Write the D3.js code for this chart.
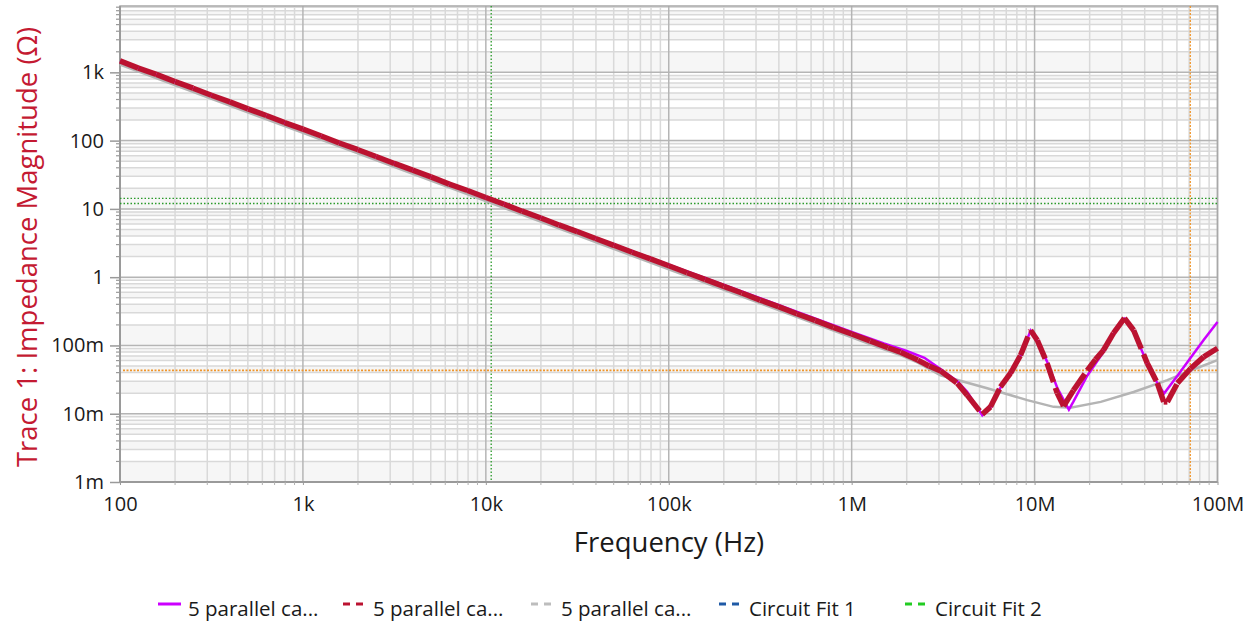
<!DOCTYPE html>
<html><head><meta charset="utf-8">
<script src="https://cdn.jsdelivr.net/npm/d3@7"></script>
<style>body{margin:0;background:#fff;} text{font-family:"Open Sans",sans-serif;}</style>
</head><body><svg id="c" width="1256" height="623"></svg>
<script>
// ---------- data ----------
const xTickValues = [1e2, 1e3, 1e4, 1e5, 1e6, 1e7, 1e8];
const xTickLabels = ["100", "1k", "10k", "100k", "1M", "10M", "100M"];
const yTickValues = [1e-3, 1e-2, 1e-1, 1, 10, 100, 1000];
const yTickLabels = ["1m", "10m", "100m", "1", "10", "100", "1k"];

// trace 2 (red, dashed)
const redFreq = [100,126,158,200,251,316,398,501,631,794,
  1000,1260,1580,2000,2510,3160,3980,5010,6310,7940,
  10000,12600,15800,20000,25100,31600,39800,50100,63100,79400,
  100000,126000,158000,200000,251000,316000,398000,501000,631000,794000,
  1000000,1260000,1580000,1850000,2300000,2650000,3060000,3780000,4280000,5180000,
  5740000,6510000,7390000,8380000,9510000,10350000,11700000,13300000,14400000,16300000,
  19400000,21500000,23800000,27000000,31000000,34800000,41300000,46900000,50800000,53200000,
  60400000,71300000,84000000,100000000];
const redZ = [1470,1155,935,732,586,462,370,292,233,184,
  147,117,92.2,73.6,58.6,46.3,36.9,29.4,23.1,18.6,
  14.7,11.7,9.25,7.36,5.82,4.66,3.68,2.93,2.32,1.85,
  1.47,1.16,0.928,0.733,0.586,0.462,0.37,0.291,0.233,0.184,
  0.147,0.1165,0.0925,0.0796,0.061,0.05,0.0424,0.028,0.0187,0.0098,
  0.0126,0.0247,0.0392,0.072,0.167,0.119,0.055,0.02,0.0129,0.022,
  0.043,0.062,0.085,0.151,0.251,0.167,0.055,0.028,0.0149,0.0149,
  0.028,0.046,0.068,0.091];

// trace 1 (magenta, solid)
const magFreq = [100,1000,10000,100000,200000,500000,1000000,1500000,2000000,2500000,
  3060000,3780000,4280000,4800000,5180000,5740000,6510000,7390000,8380000,9510000,
  10350000,11700000,13300000,15400000,16300000,19400000,23800000,27000000,31000000,34800000,
  41300000,46900000,51000000,60400000,71300000,84000000,100000000];
const magZ = [1460,146,14.8,1.52,0.772,0.312,0.158,0.107,0.083,0.066,
  0.045,0.03,0.021,0.013,0.0095,0.0123,0.024,0.039,0.07,0.165,
  0.118,0.058,0.024,0.0115,0.015,0.036,0.08,0.145,0.245,0.16,
  0.055,0.028,0.0198,0.036,0.066,0.12,0.221];

// trace 3 (grey, solid)
const greyFreq = [100,1000,10000,100000,1000000,1500000,1850000,2300000,3060000,5510000,
  9120000,12700000,15700000,23000000,34800000,53200000,71300000,100000000];
const greyZ = [1300,130,13,1.3,0.132,0.088,0.072,0.056,0.0366,0.0236,
  0.0158,0.0126,0.0122,0.0149,0.0208,0.031,0.043,0.061];

// marker lines
const greenMarkerFreq = [10700];
const greenMarkerZ = [14.3, 12.0];
const orangeMarkerFreq = [71000000];
const orangeMarkerZ = [0.043];

const legendNames = ["5 parallel ca...", "5 parallel ca...", "5 parallel ca...", "Circuit Fit 1", "Circuit Fit 2"];
const legendColors = ["#cc00ff", "#bb1230", "#bdbdbd", "#1f5aa6", "#22cc22"];
const legendDashed = [false, true, true, true, true];

// ---------- layout ----------
const svg = d3.select("#c");
const L = 120, R = 1217.5, T = 6, B = 482;
const x = d3.scaleLog().domain([1e2, 1e8]).range([L, R]);
const y = d3.scaleLog().domain([1e-3, 9370]).range([B, T]);

// background bands
const hLines = [];
for (let d = -3; d <= 3; d++) for (let k = 1; k <= 9; k++) {
  const v = k * Math.pow(10, d);
  if (v >= 1e-3 && v <= 9370) hLines.push(v);
}
hLines.push(9370);
const bands = svg.append("g");
for (let i = 0; i < hLines.length - 1; i++) {
  bands.append("rect").attr("x", L).attr("width", R - L)
    .attr("y", y(hLines[i + 1])).attr("height", y(hLines[i]) - y(hLines[i + 1]))
    .attr("fill", i % 2 === 0 ? "#f6f6f6" : "#ffffff");
}

// grid
const grid = svg.append("g");
const vMinor = [], vMajor = [];
for (let d = 2; d <= 8; d++) for (let k = 1; k <= 9; k++) {
  const v = k * Math.pow(10, d);
  if (v > 1e8) continue;
  (k === 1 ? vMajor : vMinor).push(v);
}
const hMinor = hLines.filter(v => v < 9000.5 && Math.abs(Math.log10(v) - Math.round(Math.log10(v))) > 1e-6);
grid.selectAll(".hm").data(hMinor).join("line").attr("x1", L).attr("x2", R)
  .attr("y1", d => y(d)).attr("y2", d => y(d)).attr("stroke", "#d9d9d9").attr("stroke-width", 1.5);
grid.selectAll(".vm").data(vMinor).join("line").attr("y1", T).attr("y2", B)
  .attr("x1", d => x(d)).attr("x2", d => x(d)).attr("stroke", "#d9d9d9").attr("stroke-width", 1.5);
grid.selectAll(".hM").data(yTickValues).join("line").attr("x1", L).attr("x2", R)
  .attr("y1", d => y(d)).attr("y2", d => y(d)).attr("stroke", "#b5b5b5").attr("stroke-width", 1.5);
grid.selectAll(".vM").data(vMajor).join("line").attr("y1", T).attr("y2", B)
  .attr("x1", d => x(d)).attr("x2", d => x(d)).attr("stroke", "#b5b5b5").attr("stroke-width", 1.5);

// frame
svg.append("rect").attr("x", L).attr("y", T).attr("width", R - L).attr("height", B - T)
  .attr("fill", "none").attr("stroke", "#a8a8a8").attr("stroke-width", 1.5);
svg.append("line").attr("x1", L).attr("x2", L).attr("y1", T).attr("y2", B).attr("stroke", "#9a9a9a").attr("stroke-width", 2);
svg.append("line").attr("x1", L).attr("x2", R).attr("y1", B).attr("y2", B).attr("stroke", "#9a9a9a").attr("stroke-width", 2);

// axes
const yAxis = d3.axisLeft(y).tickValues(yTickValues).tickSize(10)
  .tickFormat((d, i) => yTickLabels[i]).tickPadding(6);
const ya = svg.append("g").attr("transform", `translate(${L},0)`).call(yAxis);
ya.select(".domain").remove();
ya.selectAll(".tick line").attr("stroke", "#9a9a9a").attr("stroke-width", 1.5);
ya.selectAll(".tick text").attr("font-size", 20).attr("fill", "#1a1a1a").attr("font-family", "Open Sans");
const yMinorTicks = svg.append("g").attr("transform", `translate(${L},0)`);
yMinorTicks.selectAll("line").data(hMinor).join("line").attr("x1", -4).attr("x2", 0)
  .attr("y1", d => y(d)).attr("y2", d => y(d)).attr("stroke", "#9a9a9a").attr("stroke-width", 1.2);

const xAxis = d3.axisBottom(x).tickValues(xTickValues).tickSize(3)
  .tickFormat((d, i) => xTickLabels[i]).tickPadding(12);
const xa = svg.append("g").attr("transform", `translate(0,${B})`).call(xAxis);
xa.select(".domain").remove();
xa.selectAll(".tick line").attr("stroke", "#9a9a9a");
xa.selectAll(".tick text").attr("font-size", 20).attr("fill", "#1a1a1a").attr("font-family", "Open Sans");
const xMinorTicks = svg.append("g").attr("transform", `translate(0,${B})`);
xMinorTicks.selectAll("line").data(vMinor).join("line").attr("y1", 0).attr("y2", 3)
  .attr("x1", d => x(d)).attr("x2", d => x(d)).attr("stroke", "#b0b0b0");

// axis titles
svg.append("text").attr("x", 669).attr("y", 552).attr("text-anchor", "middle")
  .attr("font-size", 27.5).attr("fill", "#1a1a1a").text("Frequency (Hz)");
svg.append("text").attr("transform", `translate(37,${(T + B) / 2 + 3}) rotate(-90)`)
  .attr("text-anchor", "middle").attr("font-size", 27.5).attr("fill", "#c41a32")
  .text("Trace 1: Impedance Magnitude (Ω)");

// marker lines
const mk = svg.append("g");
greenMarkerZ.forEach(v => mk.append("line").attr("x1", L).attr("x2", R).attr("y1", y(v)).attr("y2", y(v))
  .attr("stroke", "#2a9a2a").attr("stroke-width", 1.3).attr("stroke-dasharray", "1.5,2"));
greenMarkerFreq.forEach(f => mk.append("line").attr("x1", x(f)).attr("x2", x(f)).attr("y1", T).attr("y2", B)
  .attr("stroke", "#2a9a2a").attr("stroke-width", 1.3).attr("stroke-dasharray", "1.5,2"));
orangeMarkerZ.forEach(v => mk.append("line").attr("x1", L + 3).attr("x2", R).attr("y1", y(v)).attr("y2", y(v))
  .attr("stroke", "#f0952a").attr("stroke-width", 1.8).attr("stroke-dasharray", "2,1.5"));
orangeMarkerFreq.forEach(f => mk.append("line").attr("x1", x(f)).attr("x2", x(f)).attr("y1", T).attr("y2", B)
  .attr("stroke", "#f0952a").attr("stroke-width", 1.3).attr("stroke-dasharray", "2,1.5"));

// traces
const line = d3.line().x(d => x(d[0])).y(d => y(d[1]));
const plot = svg.append("g");
plot.append("path").datum(greyFreq.map((f, i) => [f, greyZ[i]])).attr("d", line)
  .attr("fill", "none").attr("stroke", "#b4b4b4").attr("stroke-width", 2.5);
plot.append("path").datum(magFreq.map((f, i) => [f, magZ[i]])).attr("d", line)
  .attr("fill", "none").attr("stroke", "#cc00ff").attr("stroke-width", 2.5);
const redPts = redFreq.map((f, i) => [f, redZ[i]]);
const segs = d3.pairs(redPts);
plot.selectAll(".rs").data(segs).join("line")
  .attr("x1", d => x(d[0][0])).attr("y1", d => y(d[0][1]))
  .attr("x2", d => x(d[1][0])).attr("y2", d => y(d[1][1]))
  .attr("stroke", "#bb1230").attr("stroke-width", 5.5).attr("stroke-dasharray", "20,6");

// legend
const legendX = [158, 343, 531, 719, 905];
const lg = svg.append("g");
legendNames.forEach((name, i) => {
  lg.append("line").attr("x1", legendX[i]).attr("x2", legendX[i] + 23).attr("y1", 604).attr("y2", 604)
    .attr("stroke", legendColors[i]).attr("stroke-width", 3)
    .attr("stroke-dasharray", legendDashed[i] ? "7,6" : null);
  lg.append("text").attr("x", legendX[i] + 30).attr("y", 616).attr("font-size", 20.5)
    .attr("fill", "#1a1a1a").text(name);
});
</script></body></html>
